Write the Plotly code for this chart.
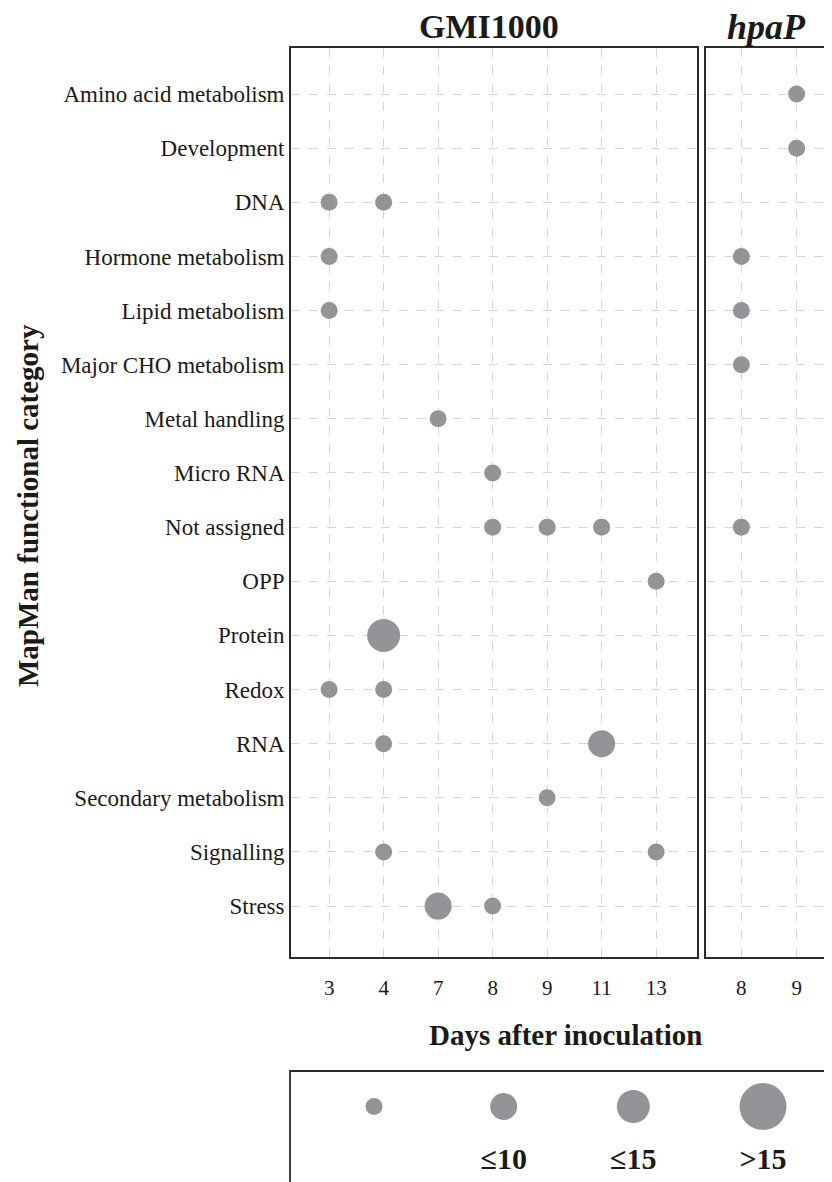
import plotly.graph_objects as go

# ---------------- data ----------------
categories = [
    "Amino acid metabolism", "Development", "DNA", "Hormone metabolism",
    "Lipid metabolism", "Major CHO metabolism", "Metal handling", "Micro RNA",
    "Not assigned", "OPP", "Protein", "Redox", "RNA", "Secondary metabolism",
    "Signalling", "Stress",
]
gmi_days_axis = ["3", "4", "7", "8", "9", "11", "13"]
hpap_days_axis = ["8", "9"]

gmi_category = ["DNA", "DNA", "Hormone metabolism", "Lipid metabolism",
                "Metal handling", "Micro RNA", "Not assigned", "Not assigned",
                "Not assigned", "OPP", "Protein", "Redox", "Redox", "RNA", "RNA",
                "Secondary metabolism", "Signalling", "Signalling", "Stress", "Stress"]
gmi_day = ["3", "4", "3", "3", "7", "8", "8", "9", "11", "13", "4", "3", "4",
           "4", "11", "9", "4", "13", "7", "8"]
gmi_class = ["≤5", "≤5", "≤5", "≤5", "≤5", "≤5", "≤5", "≤5", "≤5", "≤5", "≤15",
             "≤5", "≤5", "≤5", "≤10", "≤5", "≤5", "≤5", "≤10", "≤5"]

hpap_category = ["Amino acid metabolism", "Development", "Hormone metabolism",
                 "Lipid metabolism", "Major CHO metabolism", "Not assigned"]
hpap_day = ["9", "9", "8", "8", "8", "8"]
hpap_class = ["≤5", "≤5", "≤5", "≤5", "≤5", "≤5"]

legend_classes = ["≤5", "≤10", "≤15", ">15"]
legend_ticktext = ["", "≤10", "≤15", ">15"]

# ---------------- style ----------------
OFF = 8                      # page body margin of the browser
W, H = 832 - OFF, 1182 - OFF
FONT = "Liberation Serif"
DOT = "#939498"
LINE = "#2b2b2b"
GRID = "#d6d6d6"
TXT = "#1a1a1a"
size_px = {"≤5": 17, "≤10": 27, "≤15": 33, ">15": 47}


def px(x):
    return (x - OFF) / W


def py(y):
    return 1 - (y - OFF) / H


fig = go.Figure()
fig.add_trace(go.Scatter(
    x=gmi_day, y=gmi_category, mode="markers", xaxis="x", yaxis="y",
    marker=dict(size=[size_px[c] for c in gmi_class], color=DOT, line=dict(width=0), opacity=1),
    showlegend=False, hoverinfo="skip"))
fig.add_trace(go.Scatter(
    x=hpap_day, y=hpap_category, mode="markers", xaxis="x2", yaxis="y2",
    marker=dict(size=[size_px[c] for c in hpap_class], color=DOT, line=dict(width=0), opacity=1),
    showlegend=False, hoverinfo="skip"))
fig.add_trace(go.Scatter(
    x=legend_classes, y=["key"] * len(legend_classes), mode="markers", xaxis="x3", yaxis="y3",
    marker=dict(size=[size_px[c] for c in legend_classes], color=DOT, line=dict(width=0), opacity=1),
    showlegend=False, hoverinfo="skip"))

ydom = [py(957), py(48)]
common_x = dict(type="category", showgrid=True, gridcolor=GRID, griddash="dash", gridwidth=1,
                showline=True, linecolor=LINE, linewidth=1.8, mirror=True, ticks="",
                tickfont=dict(family=FONT, size=21, color=TXT),
                ticklabelstandoff=11, zeroline=False, automargin=False, fixedrange=True)
common_y = dict(type="category", categoryorder="array", categoryarray=categories,
                range=[15.94, -0.85], showgrid=True, gridcolor=GRID, griddash="dash", gridwidth=1,
                zeroline=False, automargin=False, ticks="", fixedrange=True, domain=ydom,
                tickfont=dict(family=FONT, size=23, color=TXT))

fig.update_layout(
    width=W, height=H, margin=dict(l=0, r=0, t=0, b=0),
    paper_bgcolor="white", plot_bgcolor="white",
    font=dict(family=FONT, color=TXT),
    xaxis=dict(common_x, domain=[px(291), px(697)], categoryorder="array",
               categoryarray=gmi_days_axis, range=[-0.7, 6.75], anchor="y"),
    yaxis=dict(common_y, anchor="x", showline=True, linecolor=LINE, linewidth=1.8, mirror=True,
               ticklabelstandoff=0),
    xaxis2=dict(common_x, domain=[px(706), 1.0], categoryorder="array",
                categoryarray=hpap_days_axis, range=[-0.64, 1.64], anchor="y2"),
    yaxis2=dict(common_y, anchor="x2", showticklabels=False, showline=True,
                linecolor=LINE, linewidth=1.8, mirror=False),
    xaxis3=dict(type="category", categoryorder="array", categoryarray=legend_classes,
                tickvals=legend_classes, ticktext=legend_ticktext,
                range=[-0.648, 3.532], domain=[px(290), 1.0], anchor="y3",
                showgrid=False, showline=False, zeroline=False, ticks="",
                tickfont=dict(family=FONT, size=30, color=TXT, weight="bold"),
                ticklabelstandoff=0, automargin=False, fixedrange=True),
    yaxis3=dict(type="category", range=[-0.47, 0.53], domain=[py(1138), py(1071)], anchor="x3",
                showgrid=False, showline=False, zeroline=False, showticklabels=False,
                automargin=False, fixedrange=True),
)

# legend box (extends beyond bottom/right edges as in reference)
fig.add_shape(type="rect", xref="paper", yref="paper",
              x0=px(290), x1=1.02, y0=-0.05, y1=py(1071),
              line=dict(color=LINE, width=1.8), fillcolor="rgba(0,0,0,0)")

# titles
fig.add_annotation(text="<b>GMI1000</b>", x=px(489), y=py(27), xref="paper", yref="paper",
                   showarrow=False, font=dict(family=FONT, size=34, color=TXT),
                   xanchor="center", yanchor="middle")
fig.add_annotation(text="<b><i>hpaP</i></b>", x=px(766), y=py(27), xref="paper", yref="paper",
                   showarrow=False, font=dict(family=FONT, size=36, color=TXT),
                   xanchor="center", yanchor="middle")
fig.add_annotation(text="<b>Days after inoculation</b>", x=px(565), y=py(1035),
                   xref="paper", yref="paper", showarrow=False,
                   font=dict(family=FONT, size=29, color=TXT),
                   xanchor="center", yanchor="middle")
fig.add_annotation(text="<b>MapMan functional category</b>", x=px(28), y=py(506),
                   xref="paper", yref="paper", showarrow=False, textangle=-90,
                   font=dict(family=FONT, size=29, color=TXT),
                   xanchor="center", yanchor="middle")

fig.write_html("out.html")
